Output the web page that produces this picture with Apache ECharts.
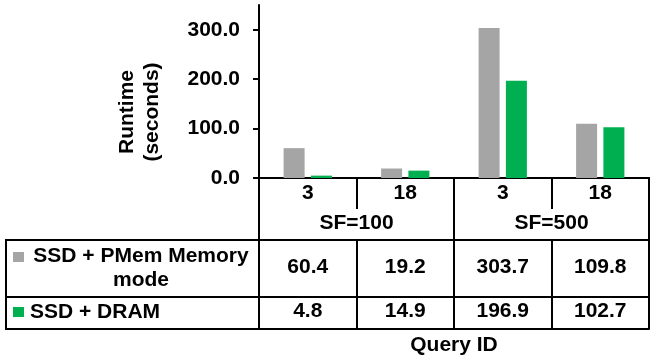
<!DOCTYPE html>
<html>
<head>
<meta charset="utf-8">
<script src="https://cdn.jsdelivr.net/npm/echarts@6/dist/echarts.min.js"></script>
<style>
  html, body { margin: 0; padding: 0; background: #fff; }
  #chart { width: 654px; height: 358px; }
</style>
</head>
<body>
<div id="chart"></div>
<script>
const queryIds = ['3', '18', '3', '18']
const scaleFactors = ['SF=100', 'SF=500']
const seriesNames = ['SSD + PMem Memory mode', 'SSD + DRAM']
const pmemVals = [60.4, 19.2, 303.7, 109.8]
const dramVals = [4.8, 14.9, 196.9, 102.7]
const yTicks = [0, 100, 200, 300]

const colors = ['#A5A5A5', '#00B050']
const font = { fontFamily: 'Liberation Sans, Arial, sans-serif', fontWeight: 'bold', fontSize: 21, color: '#000' }
const black = { color: '#000', width: 2 }

// one category axis per table row, stacked under the plot by offset
function rowAxis(data, offset, tickLen, margin, extra) {
  return Object.assign({
    type: 'category',
    position: 'bottom',
    offset: offset,
    data: data,
    axisLine: { show: true, lineStyle: black },
    axisTick: { show: tickLen > 0, interval: 0, length: tickLen, lineStyle: black },
    axisLabel: Object.assign({ interval: 0, margin: margin }, font),
    splitLine: { show: false }
  }, extra || {})
}

const chart = echarts.init(document.getElementById('chart'))
chart.setOption({
  animation: false,
  grid: { left: 259, right: 5, top: 5, bottom: 180 },
  xAxis: [
    rowAxis(queryIds, 0, 31, 5),
    rowAxis(scaleFactors, 0, 62, 35),
    rowAxis(pmemVals.map(v => v.toFixed(1)), 62, 89, 17),
    rowAxis(dramVals.map(v => v.toFixed(1)), 119, 0, 4),
    rowAxis(['', '', '', ''], 151, 0, 5, {
      name: 'Query ID',
      nameLocation: 'middle',
      nameGap: 5,
      nameTextStyle: font
    })
  ],
  yAxis: {
    type: 'value',
    min: 0,
    max: 350,
    interval: 100,
    name: 'Runtime\n(seconds)',
    nameLocation: 'middle',
    nameRotate: 90,
    nameGap: 94,
    nameTextStyle: Object.assign({ lineHeight: 25, padding: [0, 41, 0, 0] }, font),
    axisLine: { show: true, lineStyle: black },
    axisTick: { show: true, length: 6, lineStyle: black, customValues: yTicks },
    axisLabel: Object.assign({
      margin: 19,
      customValues: yTicks,
      formatter: v => v.toFixed(1)
    }, font),
    splitLine: { show: false }
  },
  series: [
    { name: seriesNames[0], type: 'bar', data: pmemVals, barWidth: 21, barGap: '30%', itemStyle: { color: colors[0] } },
    { name: seriesNames[1], type: 'bar', data: dramVals, barWidth: 21, barGap: '30%', itemStyle: { color: colors[1] } }
  ],
  // legend column of the data table
  graphic: [
    { type: 'rect', shape: { x: 6, y: 240, width: 253, height: 89 }, style: { fill: 'none', stroke: '#000', lineWidth: 2 } },
    { type: 'line', shape: { x1: 6, y1: 297, x2: 259, y2: 297 }, style: { stroke: '#000', lineWidth: 2 } },
    { type: 'rect', shape: { x: 13, y: 252, width: 11, height: 10 }, style: { fill: colors[0] } },
    { type: 'rect', shape: { x: 13, y: 307, width: 11, height: 10 }, style: { fill: colors[1] } },
    {
      type: 'text', x: 141, y: 268,
      style: Object.assign({
        text: seriesNames[0].replace(/ mode$/, '\nmode'),
        align: 'center', verticalAlign: 'middle', lineHeight: 24, fill: '#000'
      }, font, { color: undefined })
    },
    {
      type: 'text', x: 30, y: 312,
      style: Object.assign({
        text: seriesNames[1],
        align: 'left', verticalAlign: 'middle', fill: '#000'
      }, font, { color: undefined })
    }
  ]
})
</script>
</body>
</html>
